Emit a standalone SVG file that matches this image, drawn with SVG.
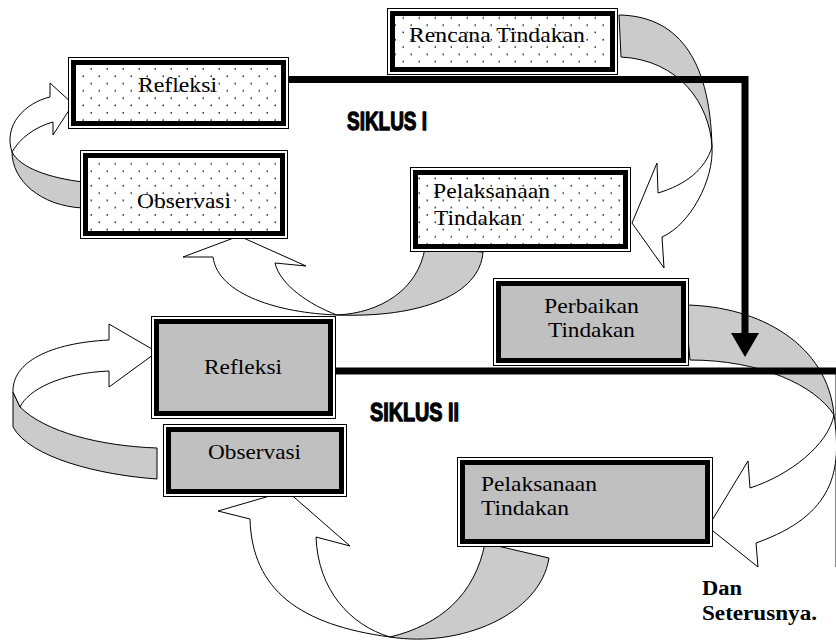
<svg xmlns="http://www.w3.org/2000/svg" width="836" height="642" viewBox="0 0 836 642">
<defs>
<pattern id="dots" patternUnits="userSpaceOnUse" width="16" height="14.6">
<rect width="16" height="14.6" fill="#fff"/>
<rect x="2.5" y="2.5" width="1.5" height="1.5" fill="#222"/>
<rect x="10.5" y="9.8" width="1.5" height="1.5" fill="#222"/>
</pattern>
<style>
.frame{fill:#fff;stroke:#000;stroke-width:1}
.dot{fill:url(#dots);stroke:#000;stroke-width:5}
.gry{fill:#c0c0c0;stroke:#000;stroke-width:5}
.back{fill:#cbcbcb;stroke:#000;stroke-width:1;stroke-linejoin:round}
.front{fill:#fff;stroke:#000;stroke-width:1;stroke-linejoin:miter}
.line{fill:none;stroke:#000;stroke-width:7}
.t{font-family:"Liberation Serif","Times New Roman",serif;font-size:21px;fill:#000}
.b{font-family:"Liberation Serif","Times New Roman",serif;font-size:20px;font-weight:bold;fill:#000}
.s{font-family:"Liberation Sans Narrow","Liberation Sans","DejaVu Sans",sans-serif;font-size:26px;font-weight:bold;fill:#000;stroke:#000;stroke-width:1.3;stroke-linejoin:round}
</style>
</defs>
<g id="connectors">
<!-- Rencana -> Pelaksanaan I -->
<path class="back" d="M619,15 C675,16 710,55 712,147 C710,105 680,60 621,57 Z"/>
<path class="front" d="M712,147 C714,180 690,225 662,237 L664,268 L632,223 L657,163 L658,193 C685,185 705,170 712,147 Z"/>
<!-- Pelaksanaan I -> Observasi I -->
<path class="back" d="M425,248 C418,290 380,313 337,315 C420,318 480,295 483,252 Z"/>
<path class="front" d="M337,315 C280,313 218,295 213,257 L183,257 L239,236 L306,266 L275,263 C280,285 310,305 337,315 Z"/>
<!-- Observasi I -> Refleksi I -->
<path class="back" d="M83,182 C50,178 20,168 12,152 C12,180 40,206 83,208 Z"/>
<path class="front" d="M12,152 C3,125 25,103 50,97 L50,83 L73,104 L53,135 L53,122 C35,127 20,138 12,152 Z"/>
<!-- Perbaikan -> Pelaksanaan II -->
<path class="back" d="M685,305 C760,306 828,345 834,415 C815,385 760,360 690,360 Z"/>
<line x1="835.5" y1="372" x2="835.5" y2="567" stroke="#888" stroke-width="1"/>
<path class="front" d="M834,415 C842,470 835,515 756,543 L758,567 L708,527 L748,461 L750,488 C790,475 828,445 834,415 Z"/>
<!-- Pelaksanaan II -> Observasi II -->
<path class="back" d="M485,543 C475,595 440,625 390,637 C460,648 540,615 549,558 Z"/>
<path class="front" d="M390,637 C300,625 252,590 250,519 L218,511 L287,491 L350,546 L316,537 C318,590 350,625 390,637 Z"/>
<!-- Observasi II -> Refleksi II -->
<path class="back" d="M20,407 C45,432 100,446 157,448 L157,479 C100,475 30,458 13,427 L13,392 Z"/>
<path class="front" d="M13,392 C12,362 50,343 109,340 L109,324 L157,352 L109,387 L109,371 C60,373 28,390 20,407 Z"/>
<!-- thick lines -->
<polyline class="line" points="288,79.5 745,79.5 745,335"/>
<polygon points="731,333 759,333 745,357" fill="#000"/>
<line class="line" x1="336" y1="371" x2="836" y2="371"/>
</g>
<g id="rencana">
<rect class="frame" x="387.5" y="8.5" width="230" height="66"/>
<rect class="dot" x="392.5" y="13.5" width="220" height="56"/>
<text class="t" x="409" y="42" textLength="176" lengthAdjust="spacingAndGlyphs">Rencana Tindakan</text>
</g>
<g id="refleksi1">
<rect class="frame" x="68.5" y="57.5" width="220" height="71"/>
<rect class="dot" x="73.5" y="62.5" width="210" height="61"/>
<text class="t" x="138" y="92" textLength="79" lengthAdjust="spacingAndGlyphs">Refleksi</text>
</g>
<g id="observasi1">
<rect class="frame" x="80.5" y="150.5" width="207" height="88"/>
<rect class="dot" x="85.5" y="155.5" width="197" height="78"/>
<text class="t" x="137" y="208" textLength="94" lengthAdjust="spacingAndGlyphs">Observasi</text>
</g>
<g id="pelaksanaan1">
<rect class="frame" x="410.5" y="167.5" width="220" height="84"/>
<rect class="dot" x="415.5" y="172.5" width="210" height="74"/>
<text class="t" x="433" y="198" textLength="117" lengthAdjust="spacingAndGlyphs">Pelaksanaan</text>
<text class="t" x="434" y="225" textLength="88" lengthAdjust="spacingAndGlyphs">Tindakan</text>
</g>
<g id="siklus1">
<text class="s" x="347" y="130" textLength="80" lengthAdjust="spacingAndGlyphs">SIKLUS I</text>
</g>
<g id="perbaikan">
<rect class="frame" x="493.5" y="278.5" width="195" height="87"/>
<rect class="gry" x="498.5" y="283.5" width="185" height="77"/>
<text class="t" x="544" y="313" textLength="95" lengthAdjust="spacingAndGlyphs">Perbaikan</text>
<text class="t" x="548" y="337" textLength="87" lengthAdjust="spacingAndGlyphs">Tindakan</text>
</g>
<g id="refleksi2">
<rect class="frame" x="151.5" y="316.5" width="184" height="102"/>
<rect class="gry" x="156.5" y="321.5" width="174" height="92"/>
<text class="t" x="204" y="374" textLength="78" lengthAdjust="spacingAndGlyphs">Refleksi</text>
</g>
<g id="observasi2">
<rect class="frame" x="163.5" y="424.5" width="183" height="72"/>
<rect class="gry" x="168.5" y="429.5" width="173" height="62"/>
<text class="t" x="208" y="459" textLength="93" lengthAdjust="spacingAndGlyphs">Observasi</text>
</g>
<g id="pelaksanaan2">
<rect class="frame" x="457.5" y="457.5" width="255" height="89"/>
<rect class="gry" x="462.5" y="462.5" width="245" height="79"/>
<text class="t" x="481" y="491" textLength="116" lengthAdjust="spacingAndGlyphs">Pelaksanaan</text>
<text class="t" x="481" y="515" textLength="88" lengthAdjust="spacingAndGlyphs">Tindakan</text>
</g>
<g id="siklus2">
<text class="s" x="370" y="421" textLength="89" lengthAdjust="spacingAndGlyphs">SIKLUS II</text>
</g>
<g id="dan">
<text class="b" x="702" y="595" textLength="40" lengthAdjust="spacingAndGlyphs">Dan</text>
<text class="b" x="702" y="620" textLength="115" lengthAdjust="spacingAndGlyphs">Seterusnya.</text>
</g>
</svg>
